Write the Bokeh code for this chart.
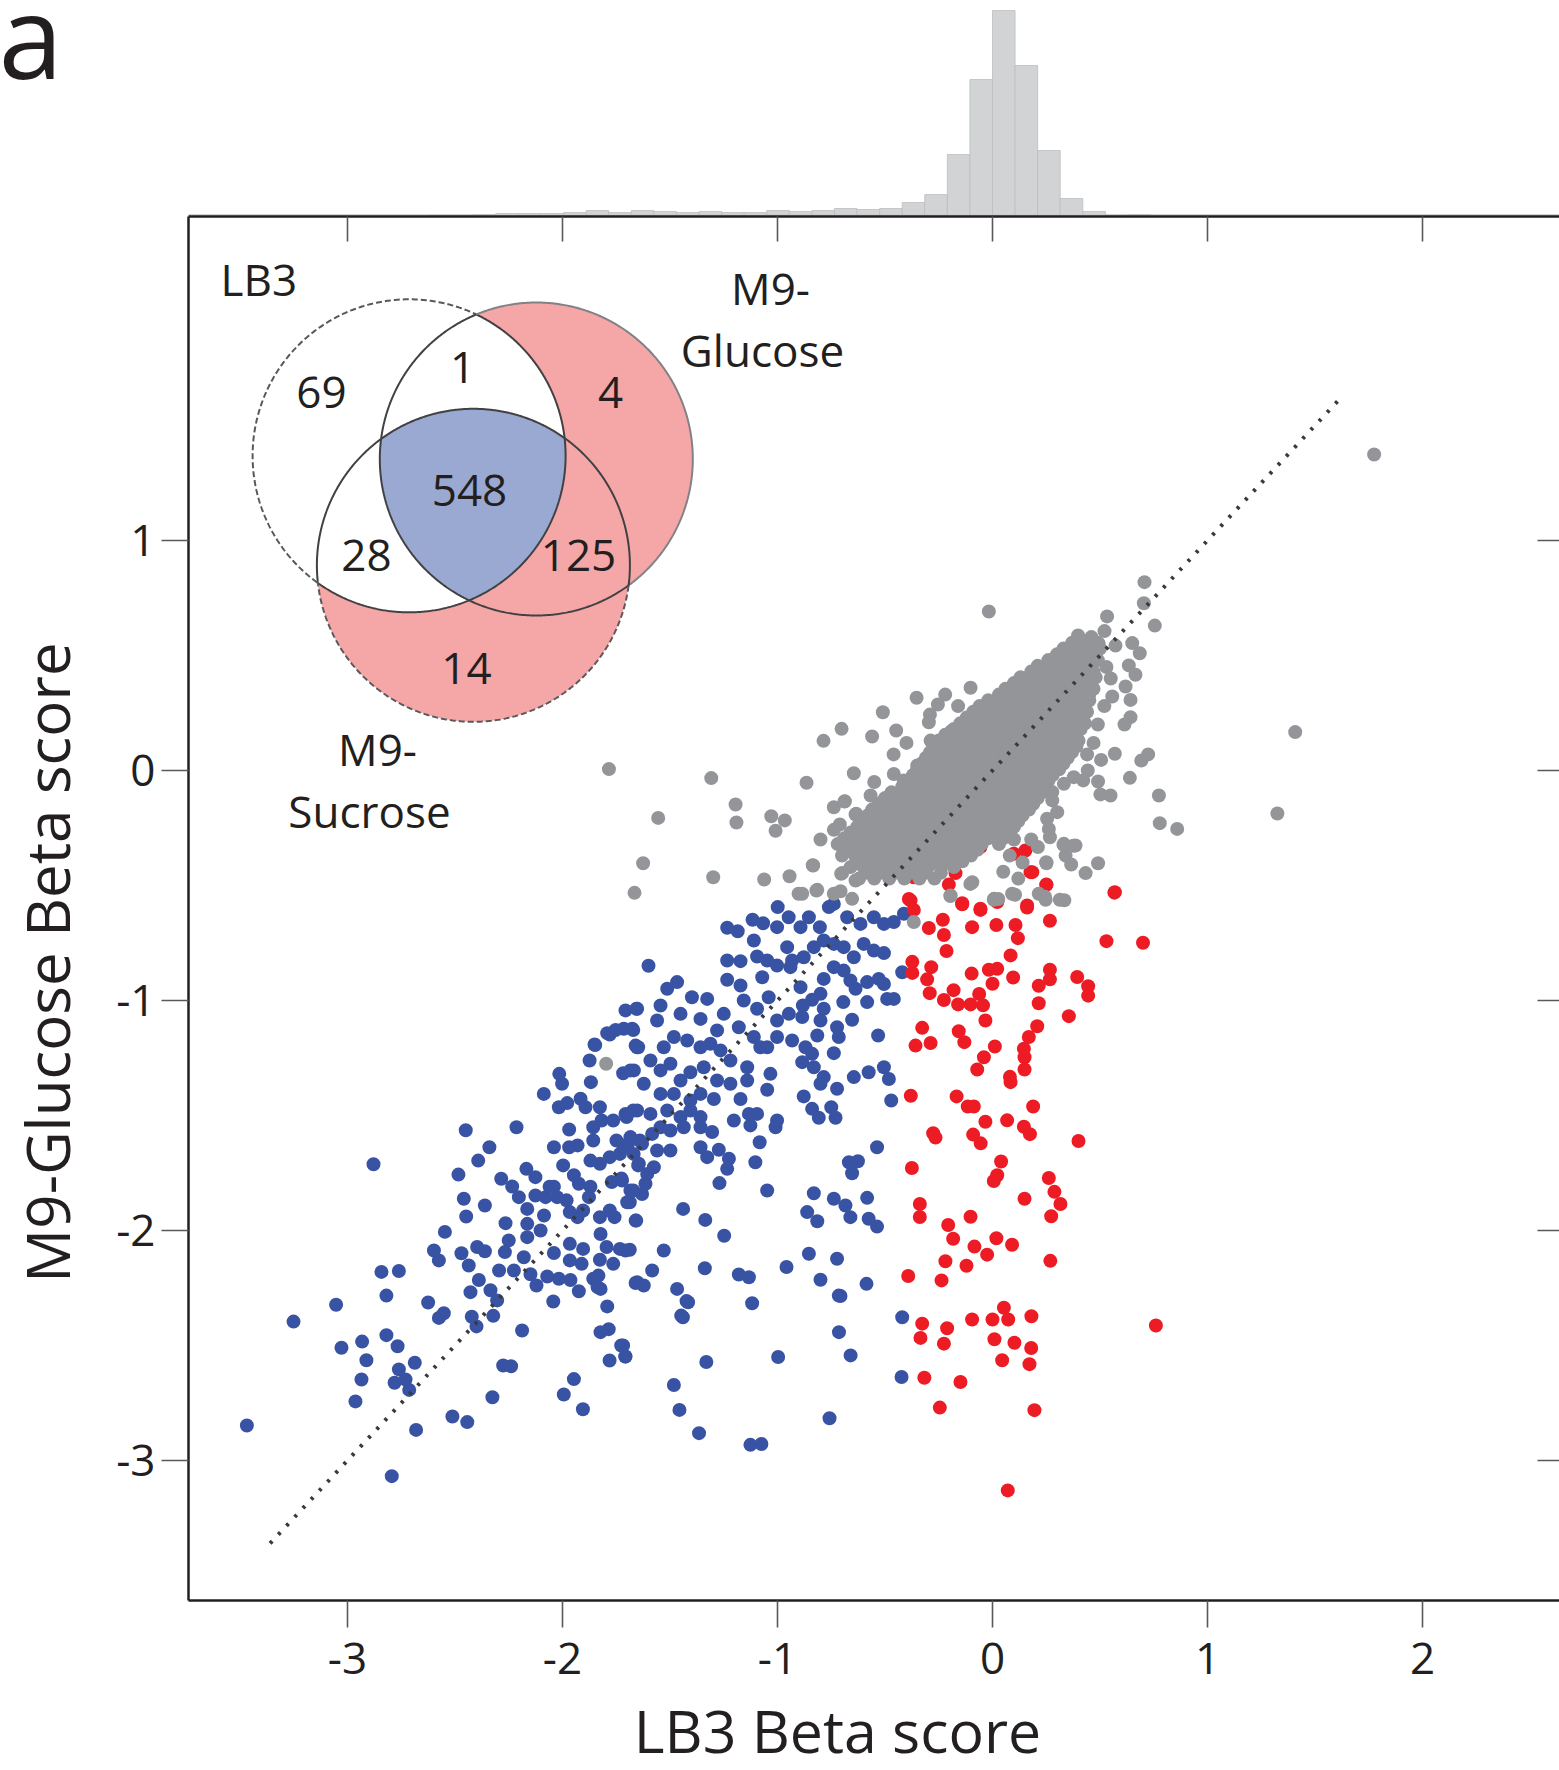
import numpy as np
from bokeh.plotting import figure
from bokeh.models import Range1d, FixedTicker, LinearAxis, Label
from bokeh.embed import file_html
from bokeh.resources import INLINE
from bokeh.core.properties import value

# ---------------- data ----------------
x_ticks = [-3, -2, -1, 0, 1, 2]
y_ticks = [-3, -2, -1, 0, 1]
diag = [-3.36, 1.61]

hist_left = [-2.625, -2.52, -2.415, -2.31, -2.205, -2.1, -1.995, -1.89, -1.785, -1.68,
             -1.575, -1.47, -1.365, -1.26, -1.155, -1.05, -0.945, -0.84, -0.735, -0.63,
             -0.525, -0.42, -0.315, -0.21, -0.105, 0.0, 0.105, 0.21, 0.315, 0.42, 0.525, 0.63]
hist_count = [1, 1, 2, 3, 3, 3, 4, 6, 4, 6, 5, 4, 5, 4, 4, 6, 5, 6, 8, 7, 8, 14,
              22, 62, 137, 206, 151, 66, 18, 5, 1, 2]
BIN_W = 0.105

venn_counts = {"LB3 only": 69, "LB3+Glc": 1, "Glc only": 4, "all": 548,
               "LB3+Suc": 28, "Glc+Suc": 125, "Suc only": 14}

gray_pts = [
    (1.775, 1.374), (1.408, 0.167), (1.325, -0.187), (-0.017, 0.691),
    (-1.784, 0.006), (-1.308, -0.033), (-1.555, -0.206), (-1.625, -0.403), (-1.665, -0.532),
    (-1.195, -0.148), (-1.191, -0.226), (-1.029, -0.199), (-0.966, -0.217), (-1.009, -0.262),
    (-1.299, -0.464), (-1.062, -0.474), (-0.944, -0.46), (-0.902, -0.536), (-0.836, -0.412),
    (-0.819, -0.522), (-0.865, -0.053), (-0.786, 0.129), (-0.702, 0.181), (-0.645, -0.012),
    (-0.738, -0.16), (-0.688, -0.135), (-0.738, -0.258), (-0.71, -0.235), (-0.637, -0.191),
    (-0.645, -0.275), (-0.684, -0.348), (-0.699, -0.446), (-0.637, -0.478), (-0.738, -0.536),
    (-0.707, -0.525), (-0.653, -0.558), (-0.815, -0.519), (-1.797, -1.275),
    (0.707, 0.819), (0.704, 0.727), (0.755, 0.63), (0.533, 0.67), (0.521, 0.606), (0.398, 0.587),
    (0.494, 0.551), (0.572, 0.543), (0.65, 0.554), (0.685, 0.51), (0.634, 0.457), (0.665, 0.416),
    (0.619, 0.365), (0.642, 0.307), (0.557, 0.322), (0.642, 0.232), (0.614, 0.2),
    (-0.102, 0.36), (-0.353, 0.316), (-0.254, 0.287), (-0.291, 0.243), (-0.296, 0.21),
    (-0.51, 0.253), (-0.56, 0.148), (-0.448, 0.174), (-0.192, 0.171),
    (0.569, 0.073), (0.505, 0.046), (0.692, 0.043), (0.724, 0.07), (0.639, -0.032),
    (0.491, -0.048), (0.502, -0.104), (0.549, -0.109), (0.774, -0.109), (0.778, -0.229), (0.859, -0.254),
    (0.443, 0.0), (0.378, -0.029), (0.422, -0.043), (0.332, -0.058), (0.355, 0.073),
    (0.278, -0.094), (0.278, -0.13), (0.301, -0.181), (0.254, -0.21), (0.262, -0.254), (0.267, -0.29),
    (0.332, -0.319), (0.386, -0.326), (0.34, -0.37), (0.366, -0.409), (0.491, -0.403), (0.433, -0.446),
    (0.251, -0.403), (0.211, -0.333), (0.091, -0.536), (0.006, -0.562), (0.215, -0.536), (0.247, -0.562),
    (0.313, -0.562), (-0.094, -0.486), (-0.195, -0.543), (-0.704, -0.449), (-0.834, -0.413),
    (-0.885, -0.536), (-0.692, -0.355), (-0.687, -0.134), (-0.634, -0.188),
    (-0.567, -0.109), (-0.478, -0.142), (-0.459, -0.015), (-0.413, -0.043), (-0.35, 0.022), (-0.288, 0.13),
    (-0.103, -0.493), (0.007, -0.558), (-0.366, -0.659), (0.105, -0.54), (0.027, -0.559), (0.244, -0.549),
    (0.334, -0.564), (-0.196, -0.546), (0.376, -0.327), (0.33, -0.323), (0.25, -0.399),
    (0.08, -0.37), (0.14, -0.40), (0.05, -0.44), (0.12, -0.47), (0.18, -0.30), (0.10, -0.30),
    (0.53, 0.45), (0.55, 0.40), (0.52, 0.28), (0.49, 0.20), (0.47, 0.12), (0.44, 0.07),
    (-0.22, 0.33), (-0.16, 0.28), (-0.40, 0.12), (-0.46, 0.07), (-0.55, -0.05), (-0.80, -0.30),
]

# dense core of the grey cloud, read row by row: (y, [x, ...])
gray_core_rows = [
    (0.58, [0.40, 0.46]),
    (0.555, [0.37, 0.43, 0.49]),
    (0.53, [0.33, 0.39, 0.45, 0.50]),
    (0.505, [0.30, 0.36, 0.42, 0.48]),
    (0.48, [0.26, 0.31, 0.37, 0.43, 0.49]),
    (0.455, [0.21, 0.27, 0.33, 0.39, 0.45]),
    (0.43, [0.18, 0.24, 0.30, 0.36, 0.42, 0.47]),
    (0.405, [0.13, 0.19, 0.25, 0.31, 0.37, 0.43, 0.48]),
    (0.38, [0.10, 0.16, 0.22, 0.28, 0.34, 0.40, 0.46]),
    (0.355, [0.06, 0.12, 0.18, 0.24, 0.30, 0.36, 0.42, 0.47]),
    (0.33, [0.03, 0.09, 0.15, 0.21, 0.27, 0.33, 0.39, 0.45]),
    (0.305, [-0.02, 0.04, 0.10, 0.16, 0.22, 0.28, 0.34, 0.40, 0.45]),
    (0.28, [-0.06, 0.00, 0.06, 0.12, 0.18, 0.24, 0.30, 0.36, 0.43]),
    (0.255, [-0.09, -0.03, 0.03, 0.09, 0.15, 0.21, 0.27, 0.33, 0.39, 0.44]),
    (0.23, [-0.12, -0.06, 0.00, 0.06, 0.12, 0.18, 0.24, 0.30, 0.36, 0.42]),
    (0.205, [-0.15, -0.09, -0.03, 0.03, 0.09, 0.15, 0.21, 0.27, 0.33, 0.39, 0.43]),
    (0.18, [-0.18, -0.12, -0.06, 0.00, 0.06, 0.12, 0.18, 0.24, 0.30, 0.36, 0.41]),
    (0.155, [-0.22, -0.16, -0.10, -0.04, 0.02, 0.08, 0.14, 0.20, 0.26, 0.32, 0.38]),
    (0.13, [-0.25, -0.19, -0.13, -0.07, -0.01, 0.05, 0.11, 0.17, 0.23, 0.29, 0.35, 0.40]),
    (0.105, [-0.27, -0.21, -0.15, -0.09, -0.03, 0.03, 0.09, 0.15, 0.21, 0.27, 0.33, 0.39]),
    (0.08, [-0.29, -0.23, -0.17, -0.11, -0.05, 0.01, 0.07, 0.13, 0.19, 0.25, 0.31, 0.37]),
    (0.055, [-0.31, -0.25, -0.19, -0.13, -0.07, -0.01, 0.05, 0.11, 0.17, 0.23, 0.29, 0.35]),
    (0.03, [-0.33, -0.27, -0.21, -0.15, -0.09, -0.03, 0.03, 0.09, 0.15, 0.21, 0.27, 0.33]),
    (0.005, [-0.35, -0.29, -0.23, -0.17, -0.11, -0.05, 0.01, 0.07, 0.13, 0.19, 0.25, 0.31]),
    (-0.02, [-0.37, -0.31, -0.25, -0.19, -0.13, -0.07, -0.01, 0.05, 0.11, 0.17, 0.23, 0.28]),
    (-0.045, [-0.40, -0.34, -0.28, -0.22, -0.16, -0.10, -0.04, 0.02, 0.08, 0.14, 0.20, 0.26]),
    (-0.07, [-0.42, -0.36, -0.30, -0.24, -0.18, -0.12, -0.06, 0.00, 0.06, 0.12, 0.18, 0.24]),
    (-0.095, [-0.47, -0.41, -0.35, -0.29, -0.23, -0.17, -0.11, -0.05, 0.01, 0.07, 0.13, 0.19, 0.23]),
    (-0.12, [-0.50, -0.44, -0.38, -0.32, -0.26, -0.20, -0.14, -0.08, -0.02, 0.04, 0.10, 0.16, 0.21]),
    (-0.145, [-0.53, -0.47, -0.41, -0.35, -0.29, -0.23, -0.17, -0.11, -0.05, 0.01, 0.07, 0.13, 0.19]),
    (-0.17, [-0.56, -0.50, -0.44, -0.38, -0.32, -0.26, -0.20, -0.14, -0.08, -0.02, 0.04, 0.10, 0.17]),
    (-0.195, [-0.58, -0.52, -0.46, -0.40, -0.34, -0.28, -0.22, -0.16, -0.10, -0.04, 0.02, 0.08, 0.14]),
    (-0.22, [-0.60, -0.54, -0.48, -0.42, -0.36, -0.30, -0.24, -0.18, -0.12, -0.06, 0.00, 0.06, 0.12]),
    (-0.245, [-0.63, -0.57, -0.51, -0.45, -0.39, -0.33, -0.27, -0.21, -0.15, -0.09, -0.03, 0.04, 0.10]),
    (-0.27, [-0.66, -0.60, -0.54, -0.48, -0.42, -0.36, -0.30, -0.24, -0.18, -0.12, -0.06, 0.02, 0.08]),
    (-0.295, [-0.69, -0.63, -0.57, -0.51, -0.45, -0.39, -0.33, -0.27, -0.21, -0.15, -0.09, -0.02, 0.05]),
    (-0.32, [-0.72, -0.66, -0.60, -0.54, -0.48, -0.42, -0.36, -0.30, -0.24, -0.18, -0.12, -0.05, 0.03]),
    (-0.345, [-0.67, -0.61, -0.55, -0.49, -0.43, -0.37, -0.31, -0.25, -0.19, -0.13, -0.07]),
    (-0.37, [-0.70, -0.64, -0.58, -0.52, -0.46, -0.40, -0.34, -0.28, -0.22, -0.16, -0.10]),
    (-0.395, [-0.62, -0.56, -0.50, -0.44, -0.38, -0.32, -0.26, -0.20, -0.14]),
    (-0.42, [-0.66, -0.60, -0.54, -0.48, -0.42, -0.36, -0.30, -0.24, -0.18]),
    (-0.445, [-0.58, -0.51, -0.45, -0.38, -0.31, -0.24]),
    (-0.47, [-0.62, -0.55, -0.48, -0.41, -0.34, -0.27]),
]

blue_pts = [
    (-3.468, -2.848), (-3.251, -2.396), (-2.879, -1.712), (-3.053, -2.323), (-2.842, -2.18), (-2.761, -2.176),
    (-2.819, -2.283), (-3.028, -2.51), (-2.932, -2.483), (-2.819, -2.455), (-2.767, -2.503), (-2.912, -2.564),
    (-2.687, -2.575), (-2.761, -2.604), (-2.935, -2.648), (-2.781, -2.662), (-2.73, -2.648), (-2.713, -2.693),
    (-2.963, -2.743), (-2.681, -2.867), (-2.794, -3.068), (-2.512, -2.809), (-2.443, -2.833), (-2.326, -2.725),
    (-2.276, -2.587), (-2.239, -2.59), (-1.947, -2.646), (-1.994, -2.713), (-1.905, -2.777), (-2.188, -2.435),
    (-2.043, -2.309), (-1.792, -2.33), (-1.823, -2.442), (-1.785, -2.429), (-1.727, -2.5), (-1.708, -2.548),
    (-1.781, -2.565), (-2.625, -2.313), (-2.575, -2.38), (-2.552, -2.36), (-2.422, -2.375), (-2.4, -2.417),
    (-2.322, -2.371), (-2.428, -2.268), (-2.389, -2.215), (-2.335, -2.26), (-2.304, -2.304), (-2.295, -2.174),
    (-2.121, -2.239), (-1.924, -2.264), (-1.963, -2.215), (-2.017, -2.21), (-2.071, -2.2), (-2.149, -2.19),
    (-2.226, -2.174), (-1.857, -2.21), (-1.823, -2.254), (-1.66, -2.228), (-2.598, -2.087), (-2.575, -2.13),
    (-2.547, -2.006), (-2.47, -2.099), (-2.436, -2.152), (-2.397, -2.072), (-2.361, -2.09), (-2.448, -1.939),
    (-2.459, -1.862), (-2.484, -1.757), (-2.392, -1.696), (-2.34, -1.638), (-2.45, -1.564), (-2.214, -1.551),
    (-2.361, -1.891), (-2.285, -1.775), (-2.234, -1.809), (-2.265, -1.968), (-2.25, -2.043), (-2.268, -2.094),
    (-2.203, -1.855), (-2.164, -1.906), (-2.168, -1.732), (-2.126, -1.768), (-2.164, -1.971), (-2.164, -2.029),
    (-2.18, -2.116), (-2.102, -2.0), (-2.126, -1.848), (-2.079, -1.855), (-2.04, -1.81), (-2.025, -1.855),
    (-2.086, -1.935), (-2.04, -1.638), (-1.997, -1.717), (-1.969, -1.561), (-1.969, -1.638), (-1.93, -1.63),
    (-1.947, -1.76), (-1.924, -1.797), (-1.87, -1.81), (-1.877, -1.855), (-1.966, -1.92), (-1.904, -1.913),
    (-1.826, -1.942), (-1.78, -1.913), (-1.758, -1.942), (-1.823, -2.015), (-1.66, -1.957), (-1.966, -2.058),
    (-1.904, -2.08), (-1.966, -2.13), (-1.911, -2.145), (-1.826, -2.127), (-1.795, -2.072), (-1.733, -2.08),
    (-1.687, -2.084), (-1.764, -2.145), (-1.833, -2.196), (-2.04, -2.098), (-2.015, -1.319), (-2.002, -1.362),
    (-2.087, -1.406), (-2.017, -1.464), (-1.978, -1.446), (-1.916, -1.427), (-1.893, -1.464), (-1.874, -1.261),
    (-1.848, -1.194), (-1.868, -1.355), (-1.826, -1.464), (-1.857, -1.551), (-1.857, -1.609), (-1.818, -1.522),
    (-1.78, -1.148), (-1.718, -1.316), (-1.668, -1.304), (-1.648, -1.203), (-1.671, -1.478), (-1.702, -1.507),
    (-1.764, -1.522), (-1.749, -1.609), (-1.695, -1.623), (-1.64, -1.609), (-1.87, -1.696), (-1.826, -1.71),
    (-1.78, -1.681), (-1.733, -1.667), (-1.648, -1.717), (-1.771, -1.789), (-1.726, -1.774), (-1.671, -1.826),
    (-1.687, -1.877), (-2.06, -1.81), (-1.981, -1.869), (-1.93, -1.942), (-1.837, -2.246),
    (-1.707, -1.043), (-1.656, -1.036), (-1.792, -1.142), (-1.753, -1.128), (-1.715, -1.123), (-1.671, -1.128),
    (-1.851, -1.191), (-1.66, -1.196),
    (-1.6, -0.849), (-1.234, -0.684), (-1.185, -0.699), (-1.116, -0.649), (-1.067, -0.664), (-0.999, -0.594),
    (-1.11, -0.739), (-1.002, -0.681), (-0.948, -0.638), (-0.893, -0.681), (-0.854, -0.638), (-0.803, -0.681),
    (-0.761, -0.594), (-0.738, -0.58), (-0.676, -0.638), (-0.614, -0.667), (-0.552, -0.638), (-0.505, -0.667),
    (-0.459, -0.659), (-0.412, -0.623), (-1.234, -0.826), (-1.172, -0.829), (-1.095, -0.809), (-1.048, -0.826),
    (-1.002, -0.848), (-0.955, -0.768), (-0.932, -0.826), (-0.878, -0.812), (-0.831, -0.768), (-0.785, -0.739),
    (-0.738, -0.754), (-0.692, -0.768), (-0.645, -0.812), (-0.599, -0.754), (-0.552, -0.783), (-0.505, -0.794),
    (-0.42, -0.877), (-1.234, -0.91), (-1.172, -0.935), (-1.071, -0.899), (-0.94, -0.855), (-0.893, -0.942),
    (-0.785, -0.906), (-0.738, -0.855), (-0.692, -0.87), (-0.661, -0.913), (-0.637, -0.949), (-0.583, -0.92),
    (-0.529, -0.906), (-0.505, -0.928), (-0.49, -0.993), (-0.459, -0.993), (-0.583, -1.007), (-0.694, -1.007),
    (-0.8, -0.971), (-0.839, -0.997), (-0.882, -1.022), (-0.785, -1.036), (-0.8, -1.087), (-0.885, -1.072),
    (-0.947, -1.058), (-1.002, -1.087), (-1.041, -0.986), (-1.095, -1.036), (-1.157, -1.0), (-1.327, -0.993),
    (-1.398, -0.986), (-1.467, -0.92), (-1.513, -0.949), (-1.544, -1.022), (-1.653, -1.036), (-1.676, -1.123),
    (-1.56, -1.087), (-1.451, -1.058), (-1.358, -1.08), (-1.25, -1.058), (-1.281, -1.13), (-1.18, -1.116),
    (-1.11, -1.159), (-1.048, -1.203), (-1.002, -1.159), (-0.932, -1.174), (-0.87, -1.203), (-0.815, -1.152),
    (-0.723, -1.116), (-0.715, -1.159), (-0.653, -1.084), (-0.532, -1.152), (-0.738, -1.229), (-0.839, -1.232),
    (-0.885, -1.268), (-0.831, -1.29), (-0.785, -1.333), (-0.8, -1.362), (-0.723, -1.384), (-0.645, -1.333),
    (-0.576, -1.312), (-0.505, -1.29), (-0.482, -1.341), (-0.471, -1.435), (-0.878, -1.417), (-0.839, -1.471),
    (-0.808, -1.51), (-0.75, -1.464), (-0.73, -1.51), (-1.08, -1.203), (-1.141, -1.29), (-1.219, -1.261),
    (-1.265, -1.217), (-1.312, -1.188), (-1.358, -1.203), (-1.42, -1.174), (-1.482, -1.159), (-1.529, -1.203),
    (-1.591, -1.261), (-1.653, -1.203), (-1.684, -1.304), (-1.622, -1.362), (-1.544, -1.304), (-1.498, -1.275),
    (-1.451, -1.348), (-1.405, -1.312), (-1.343, -1.29), (-1.281, -1.348), (-1.219, -1.362), (-1.141, -1.348),
    (-1.048, -1.388), (-1.033, -1.319), (-1.172, -1.428), (-1.296, -1.428), (-1.358, -1.406), (-1.405, -1.435),
    (-1.482, -1.406), (-1.544, -1.406), (-1.591, -1.493), (-1.653, -1.478), (-1.707, -1.493), (-1.513, -1.478),
    (-1.451, -1.507), (-1.405, -1.478), (-1.358, -1.507), (-1.436, -1.551), (-1.498, -1.565), (-1.544, -1.551),
    (-1.583, -1.58), (-1.63, -1.623), (-1.684, -1.594), (-1.715, -1.638), (-1.669, -1.667), (-1.56, -1.652),
    (-1.498, -1.652), (-1.358, -1.551), (-1.304, -1.572), (-1.358, -1.638), (-1.327, -1.681), (-1.273, -1.649),
    (-1.226, -1.688), (-1.234, -1.732), (-1.203, -1.522), (-1.133, -1.493), (-1.095, -1.493), (-1.126, -1.543),
    (-1.009, -1.551), (-1.002, -1.522), (-1.083, -1.616), (-1.103, -1.703), (-1.27, -1.794), (-1.645, -1.71),
    (-1.606, -1.754), (-1.575, -1.725), (-1.614, -1.797), (-1.684, -1.826), (-1.63, -1.841), (-1.699, -1.877),
    (-1.723, -1.783), (-1.439, -1.906), (-1.657, -1.957), (-1.336, -1.954), (-1.248, -2.023), (-1.529, -2.087),
    (-1.707, -2.087), (-1.583, -2.174), (-1.338, -2.164), (-1.653, -2.225), (-1.622, -2.239), (-1.467, -2.254),
    (-1.423, -2.307), (-1.448, -2.37), (-1.18, -2.191), (-1.133, -2.203), (-1.118, -2.316), (-0.958, -2.159),
    (-1.048, -1.826), (-0.831, -1.838), (-0.738, -1.862), (-0.684, -1.891), (-0.661, -1.942), (-0.583, -1.858),
    (-0.576, -1.949), (-0.537, -1.983), (-0.862, -1.92), (-0.815, -1.96), (-0.668, -1.703), (-0.626, -1.699),
    (-0.653, -1.751), (-0.537, -1.638), (-0.854, -2.101), (-0.723, -2.123), (-0.8, -2.214), (-0.586, -2.232),
    (-0.715, -2.283), (-0.42, -2.377),
    (-1.416, -2.312), (-1.44, -2.377), (-1.718, -2.5), (-1.707, -2.548), (-1.331, -2.572), (-1.482, -2.672),
    (-1.456, -2.78), (-1.365, -2.881), (-1.126, -2.932), (-1.075, -2.928), (-0.997, -2.55), (-0.758, -2.816),
    (-0.714, -2.442), (-0.66, -2.543), (-0.707, -2.285), (-0.423, -2.637),
]

red_pts = [
    (0.567, -0.531), (0.53, -0.742), (0.7, -0.749), (0.185, -0.442), (0.25, -0.497), (0.161, -0.596),
    (0.267, -0.653), (-0.141, -0.582), (-0.056, -0.606), (0.022, -0.568), (-0.296, -0.685), (-0.231, -0.649),
    (-0.226, -0.715), (-0.095, -0.681), (0.018, -0.672), (0.107, -0.672), (0.118, -0.729), (-0.214, -0.785),
    (0.084, -0.804), (-0.373, -0.832), (-0.373, -0.88), (-0.285, -0.855), (-0.304, -0.908), (-0.292, -0.968),
    (-0.226, -0.998), (-0.181, -0.955), (-0.16, -1.017), (-0.102, -1.017), (-0.097, -0.883), (-0.062, -0.972),
    (-0.044, -1.021), (-0.033, -1.087), (-0.017, -0.866), (0.022, -0.862), (0.0, -0.927), (0.096, -0.9),
    (0.215, -0.936), (0.267, -0.866), (0.267, -0.908), (0.394, -0.898), (0.445, -0.938), (0.445, -0.979),
    (0.215, -1.012), (0.355, -1.068), (-0.327, -1.119), (-0.358, -1.196), (-0.288, -1.185), (-0.157, -1.134),
    (-0.131, -1.181), (0.011, -1.2), (0.208, -1.112), (0.169, -1.159), (0.146, -1.21), (0.149, -1.247),
    (0.149, -1.3), (-0.04, -1.247), (-0.071, -1.3), (0.081, -1.332), (0.084, -1.355), (-0.38, -1.414),
    (-0.167, -1.417), (-0.115, -1.461), (-0.087, -1.461), (0.189, -1.461), (0.068, -1.521), (-0.033, -1.527),
    (0.146, -1.549), (0.174, -1.581), (-0.09, -1.583), (-0.055, -1.621), (-0.276, -1.577), (-0.265, -1.596),
    (0.4, -1.611), (-0.375, -1.728), (0.04, -1.7), (0.022, -1.76), (0.006, -1.785), (0.262, -1.772),
    (0.288, -1.832), (0.316, -1.885), (0.273, -1.938), (0.149, -1.862), (-0.338, -1.885), (-0.338, -1.941),
    (-0.102, -1.94), (-0.206, -1.976), (-0.183, -2.036), (-0.084, -2.07), (0.018, -2.034), (0.091, -2.062),
    (-0.025, -2.105), (-0.219, -2.134), (-0.121, -2.153), (0.269, -2.132), (-0.392, -2.198), (-0.237, -2.217),
    (-0.327, -2.405), (-0.335, -2.467), (-0.211, -2.425), (-0.226, -2.492), (-0.095, -2.387), (0.0, -2.387),
    (0.053, -2.336), (0.073, -2.387), (0.181, -2.373), (0.009, -2.473), (0.102, -2.488), (0.18, -2.511),
    (0.172, -2.581), (0.045, -2.564), (-0.317, -2.64), (-0.149, -2.659), (-0.245, -2.77), (0.195, -2.781),
    (0.071, -3.13), (0.76, -2.413), (-0.389, -0.559), (-0.366, -0.606),
    (0.161, -0.007), (-0.056, -0.333), (0.153, -0.348), (0.099, -0.362), (0.177, -0.442), (0.251, -0.496),
    (0.569, -0.529), (-0.172, -0.446), (-0.203, -0.496), (-0.381, -0.565), (-0.141, -0.577), (-0.056, -0.601),
    (0.161, -0.587), (0.022, -0.572), (-0.366, -0.464),
]

# ---------------- layout constants (page pixels) ----------------
W, H = 1559, 1770
SX, SY = 215.0, 230.0          # pixels per data unit
X0, Y0 = 992.0, 770.0          # page position of data (0, 0)
FRAME_L, FRAME_T, FRAME_B = 188, 216, 1600
INK = "#231f20"
TICK = "#58595b"
FONT = "Open Sans"
BASE_SHIFT = 0.385             # renderer places alphabetic baseline this many em lower


def dx(px):
    return (px - X0) / SX


def dy(py):
    return (Y0 - py) / SY


# one figure whose frame covers the whole page; axes are pinned with fixed_location
p = figure(width=W, height=H, x_range=Range1d(dx(0), dx(W)), y_range=Range1d(dy(H), dy(0)),
           output_backend="svg", toolbar_location=None, min_border=0,
           x_axis_location=None, y_axis_location=None)
p.outline_line_color = None
for g in p.grid:
    g.visible = False
p.extra_y_ranges = {"hist": Range1d(FRAME_T - H, FRAME_T)}   # counts: 1 count = 1 px above frame


def style_axis(ax, out, inn, line=True):
    ax.axis_line_color = INK if line else None
    ax.axis_line_width = 2.5
    ax.major_tick_line_color = TICK
    ax.major_tick_line_width = 1.6
    ax.major_tick_out = out
    ax.major_tick_in = inn
    ax.minor_tick_line_color = None
    ax.major_label_text_font = FONT
    ax.major_label_text_font_size = "44px"
    ax.major_label_text_color = INK


bottom = LinearAxis(ticker=FixedTicker(ticks=x_ticks), fixed_location=dy(FRAME_B),
                    bounds=(dx(FRAME_L), dx(W)),
                    major_label_overrides={t: str(t) for t in x_ticks})
style_axis(bottom, 27, 0)
bottom.major_label_standoff = 15
p.add_layout(bottom, "below")

left = LinearAxis(ticker=FixedTicker(ticks=y_ticks), fixed_location=dx(FRAME_L),
                  bounds=(dy(FRAME_B), dy(FRAME_T)),
                  major_label_overrides={t: str(t) for t in y_ticks})
style_axis(left, 27, 0)
left.major_label_standoff = 6
p.add_layout(left, "left")

top = LinearAxis(ticker=FixedTicker(ticks=x_ticks), fixed_location=dy(FRAME_T),
                 bounds=(dx(FRAME_L), dx(W)))
style_axis(top, 0, 25)
top.major_label_text_color = None
p.add_layout(top, "above")

right = LinearAxis(ticker=FixedTicker(ticks=y_ticks), fixed_location=dx(W),
                   bounds=(dy(FRAME_B), dy(FRAME_T)))
style_axis(right, 0, 22, line=False)
right.major_label_text_color = None
p.add_layout(right, "right")

# ---- histogram above the frame ----
p.segment(x0=[dx(FRAME_L)], x1=[dx(W)], y0=[1.5], y1=[1.5], line_color="#d1d3d4",
          line_width=2, y_range_name="hist")
p.quad(left=hist_left, right=[l + BIN_W for l in hist_left], bottom=1.3, top=hist_count,
       fill_color="#d1d3d4", line_color="#bcbec0", line_width=0.8, y_range_name="hist")

# ---- Venn diagram (geometry in page pixels, converted to data) ----
R = 156.5
centers = {"LB3": (408.6, 455.3), "Glc": (535.8, 458.5), "Suc": (472.9, 564.8)}
th = np.linspace(0, 2 * np.pi, 720, endpoint=False)


def circ(c):
    return c[0] + R * np.cos(th), c[1] + R * np.sin(th)


def inside(x, y, c, tol=0.5):
    return (x - c[0]) ** 2 + (y - c[1]) ** 2 <= (R + tol) ** 2


PINK = "#f5a6a7"
BLUE_F = "#9aa9d1"
for key, col in (("Glc", PINK), ("Suc", PINK), ("LB3", "white")):
    cx, cy = circ(centers[key])
    p.patch(dx(cx), dy(cy), fill_color=col, line_color=None)

pts = []
for k, c in centers.items():
    cx, cy = circ(c)
    m = np.ones_like(cx, dtype=bool)
    for k2, c2 in centers.items():
        if k2 != k:
            m &= inside(cx, cy, c2)
    pts.append(np.c_[cx[m], cy[m]])
pts = np.vstack(pts)
cen = pts.mean(axis=0)
order = np.argsort(np.arctan2(pts[:, 1] - cen[1], pts[:, 0] - cen[0]))
p.patch(dx(pts[order, 0]), dy(pts[order, 1]), fill_color=BLUE_F, line_color=None)


def arc_runs(c, others):
    x, y = circ(c)
    f = np.zeros(len(x), dtype=bool)
    for o in others:
        f |= inside(x, y, o, tol=0.0)
    ch = np.where(f != np.roll(f, 1))[0]
    if len(ch) == 0:
        return [(np.r_[x, x[0]], np.r_[y, y[0]], bool(f[0]))]
    s = ch[0]
    x, y, f = np.roll(x, -s), np.roll(y, -s), np.roll(f, -s)
    ch = list(np.where(f != np.roll(f, 1))[0]) + [len(x)]
    out = []
    for a, b in zip(ch[:-1], ch[1:]):
        out.append((np.r_[x[a:b], x[b % len(x)]], np.r_[y[a:b], y[b % len(y)]], bool(f[a])))
    return out


for key in ("LB3", "Glc", "Suc"):
    others = [centers[k] for k in centers if k != key]
    for xs, ys, inner in arc_runs(centers[key], others):
        if inner:
            p.line(dx(xs), dy(ys), line_color="#414042", line_width=2)
        elif key == "Glc":
            p.line(dx(xs), dy(ys), line_color="#808285", line_width=2)
        else:
            p.line(dx(xs), dy(ys), line_color="#58595b", line_width=2, line_dash="6 3")

FS = 44
sh = BASE_SHIFT * FS
num_pos = {"LB3 only": (321, 409), "LB3+Glc": (462, 384), "Glc only": (610, 409), "all": (469, 507),
           "LB3+Suc": (366, 572), "Glc+Suc": (578, 572), "Suc only": (466, 685)}
keys = list(venn_counts)
p.text(x=[dx(num_pos[k][0]) for k in keys], y=[dy(num_pos[k][1] - sh) for k in keys],
       text=[str(venn_counts[k]) for k in keys], text_font=value(FONT),
       text_font_size=value(f"{FS}px"), text_color=INK, text_align="center",
       text_baseline="alphabetic")

set_lines = [("LB3", 220, 295, "left"), ("M9-", 770, 304, "center"), ("Glucose", 762, 366, "center"),
             ("M9-", 377, 765, "center"), ("Sucrose", 369, 827, "center")]
for txt, px, py, al in set_lines:
    p.text(x=[dx(px)], y=[dy(py - sh)], text=[txt], text_font=value(FONT),
           text_font_size=value(f"{FS}px"), text_color=INK, text_align=al,
           text_baseline="alphabetic")

# ---- scatter ----
core_x = [x for y, xs in gray_core_rows for x in xs]
core_y = [y for y, xs in gray_core_rows for x in xs]
p.scatter([q[0] for q in blue_pts], [q[1] for q in blue_pts], size=14,
          fill_color="#3953a4", line_color=None)
p.scatter([q[0] for q in red_pts], [q[1] for q in red_pts], size=14,
          fill_color="#ed1c24", line_color=None)
p.scatter([q[0] for q in gray_pts] + core_x, [q[1] for q in gray_pts] + core_y, size=14,
          fill_color="#939598", line_color=None)
p.line(diag, diag, line_color="#3a3a3c", line_width=4, line_dash="3 9")

# ---- titles ----
p.add_layout(Label(x=dx(-2), y=dy(78 - BASE_SHIFT * 116), text="a", text_font=FONT,
                   text_font_size="116px", text_color=INK, text_baseline="alphabetic",
                   text_align="left"))
p.add_layout(Label(x=dx(837), y=dy(1752 - BASE_SHIFT * 59), text="LB3 Beta score", text_font=FONT,
                   text_font_size="59px", text_color=INK, text_align="center",
                   text_baseline="alphabetic"))
p.add_layout(Label(x=dx(70 - BASE_SHIFT * 60), y=dy(962), text="M9-Glucose Beta score",
                   text_font=FONT, text_font_size="60px", text_color=INK, text_align="center",
                   text_baseline="alphabetic", angle=np.pi / 2))

open("out.html", "w").write(file_html(p, INLINE))
